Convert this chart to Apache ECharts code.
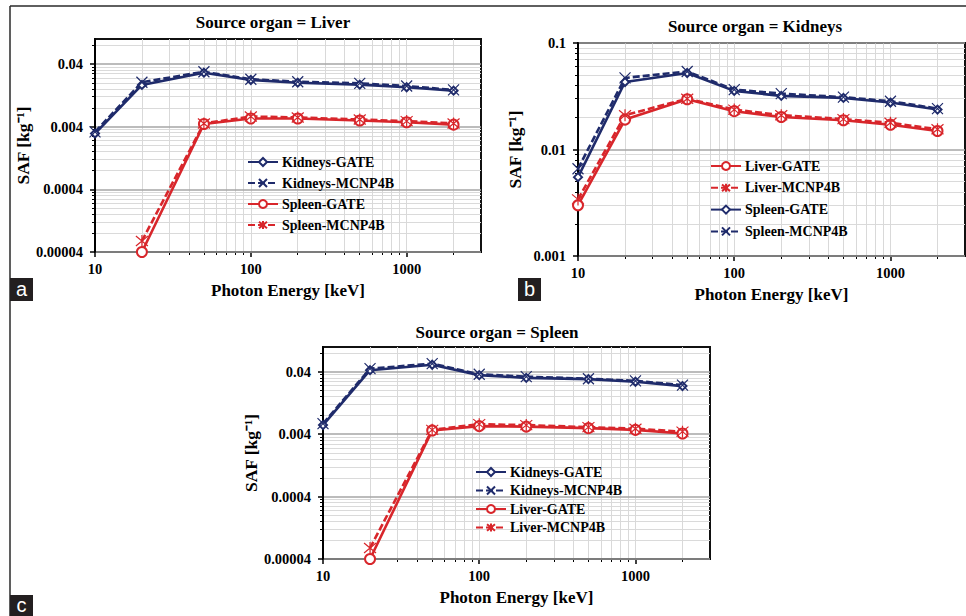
<!DOCTYPE html>
<html><head><meta charset="utf-8">
<script src="https://cdn.jsdelivr.net/npm/echarts@6/dist/echarts.min.js"></script>
<style>html,body{margin:0;padding:0;background:#fff}#c{width:966px;height:616px}</style>
</head><body><div id="c"></div>
<script>
// ---------- data ----------
const energies = [10, 20, 50, 100, 200, 500, 1000, 2000];

// (a) Source organ = Liver
const aKidneysGATE  = [0.0031, 0.0185, 0.0290, 0.0222, 0.0201, 0.0187, 0.0170, 0.0150];
const aKidneysMCNP  = [0.0033, 0.0204, 0.0300, 0.0228, 0.0208, 0.0196, 0.0178, 0.0154];
const aSpleenGATE   = [null, 0.00004, 0.0044, 0.0054, 0.0054, 0.0050, 0.0047, 0.0043];
const aSpleenMCNP   = [null, 0.00006, 0.0045, 0.0058, 0.0056, 0.0052, 0.0049, 0.0045];

// (b) Source organ = Kidneys
const bLiverGATE    = [0.0030, 0.0191, 0.0296, 0.0229, 0.0202, 0.0188, 0.0171, 0.0149];
const bLiverMCNP    = [0.0034, 0.0210, 0.0300, 0.0237, 0.0210, 0.0193, 0.0178, 0.0155];
const bSpleenGATE   = [0.0055, 0.0430, 0.0523, 0.0355, 0.0319, 0.0305, 0.0276, 0.0237];
const bSpleenMCNP   = [0.0066, 0.0470, 0.0540, 0.0365, 0.0335, 0.0310, 0.0284, 0.0242];

// (c) Source organ = Spleen
const cKidneysGATE  = [0.0056, 0.0425, 0.0520, 0.0354, 0.0320, 0.0306, 0.0277, 0.0236];
const cKidneysMCNP  = [0.0059, 0.0450, 0.0540, 0.0366, 0.0335, 0.0310, 0.0287, 0.0245];
const cLiverGATE    = [null, 0.00004, 0.0046, 0.0054, 0.0053, 0.0050, 0.0047, 0.0041];
const cLiverMCNP    = [null, 0.00006, 0.0047, 0.0058, 0.0056, 0.0052, 0.0049, 0.0044];

// ticks
const xTicks = [10, 100, 1000];
const xTickLabels = ['10', '100', '1000'];
const yTicksAC = [0.00004, 0.0004, 0.004, 0.04];
const yTickLabelsAC = ['0.00004', '0.0004', '0.004', '0.04'];
const yTicksB = [0.001, 0.01, 0.1];
const yTickLabelsB = ['0.001', '0.01', '0.1'];

const titles = ['Source organ = Liver', 'Source organ = Kidneys', 'Source organ = Spleen'];
const xName = 'Photon Energy [keV]';
const yName = 'SAF [kg\u207B\u00B9]';

// ---------- styling ----------
const BLUE = '#1f2b6b', RED = '#d8262b';
const FONT = "'Liberation Serif', 'Times New Roman', serif";
const KIND = {
  blueGate: {color: BLUE, dash: 'solid', symbol: 'emptyDiamond', size: 8},
  blueMcnp: {color: BLUE, dash: [7, 3], symbol: 'path://M0,0L10,10M10,0L0,10', size: 11},
  redGate:  {color: RED,  dash: 'solid', symbol: 'emptyCircle', size: 10},
  redMcnp:  {color: RED,  dash: [7, 3], symbol: 'path://M0,0L10,10M10,0L0,10M5,-1L5,11', size: 12}
};

const panels = [
  {key: 'a', grid: {left: 95, top: 39, width: 386, height: 213}, yMin: 0.00004, yMax: 0.1,
   yTicks: yTicksAC, yLabels: yTickLabelsAC, title: {left: 273, top: 14}, yGap: 53,
   legend: {left: 247, top: 155, itemGap: 7},
   series: [['Kidneys-GATE', aKidneysGATE, 'blueGate'], ['Kidneys-MCNP4B', aKidneysMCNP, 'blueMcnp'],
            ['Spleen-GATE', aSpleenGATE, 'redGate'], ['Spleen-MCNP4B', aSpleenMCNP, 'redMcnp']]},
  {key: 'b', grid: {left: 578, top: 43, width: 387, height: 213}, yMin: 0.001, yMax: 0.1,
   yTicks: yTicksB, yLabels: yTickLabelsB, title: {left: 755, top: 18}, yGap: 54,
   legend: {left: 710, top: 159, itemGap: 7.8},
   series: [['Liver-GATE', bLiverGATE, 'redGate'], ['Liver-MCNP4B', bLiverMCNP, 'redMcnp'],
            ['Spleen-GATE', bSpleenGATE, 'blueGate'], ['Spleen-MCNP4B', bSpleenMCNP, 'blueMcnp']]},
  {key: 'c', grid: {left: 323, top: 347, width: 387, height: 212}, yMin: 0.00004, yMax: 0.1,
   yTicks: yTicksAC, yLabels: yTickLabelsAC, title: {left: 497, top: 324}, yGap: 53,
   legend: {left: 475, top: 465, itemGap: 4.5},
   series: [['Kidneys-GATE', cKidneysGATE, 'blueGate'], ['Kidneys-MCNP4B', cKidneysMCNP, 'blueMcnp'],
            ['Liver-GATE', cLiverGATE, 'redGate'], ['Liver-MCNP4B', cLiverMCNP, 'redMcnp']]}
];

function minorValues(ticks, max) {
  const out = [];
  ticks.forEach(t => { for (let k = 2; k <= 9; k++) { const v = +(t * k).toPrecision(6); if (v < max) out.push(v); } });
  return out;
}
function labelFor(vals, labels) {
  return v => {
    let best = 0, bd = Infinity;
    vals.forEach((t, i) => { const d = Math.abs(Math.log10(v) - Math.log10(t)); if (d < bd) { bd = d; best = i; } });
    return bd < 0.01 ? labels[best] : '';
  };
}

const option = {backgroundColor: '#fff', animation: false, title: [], grid: [], xAxis: [], yAxis: [], legend: [], series: [],
  graphic: [
    {type: 'line', shape: {x1: 10, y1: 6, x2: 966, y2: 6}, style: {stroke: '#2a2a2a', lineWidth: 1.5}},
    {type: 'line', shape: {x1: 10, y1: 6, x2: 10, y2: 616}, style: {stroke: '#2a2a2a', lineWidth: 1.5}},
    {type: 'rect', shape: {x: 10, y: 278, width: 23, height: 23}, style: {fill: '#231f20'}},
    {type: 'text', x: 21.5, y: 289, style: {text: 'a', fill: '#fff', font: '20px "Liberation Sans", Arial, sans-serif', align: 'center', verticalAlign: 'middle'}},
    {type: 'rect', shape: {x: 518, y: 278, width: 23, height: 23}, style: {fill: '#231f20'}},
    {type: 'text', x: 529.5, y: 289, style: {text: 'b', fill: '#fff', font: '20px "Liberation Sans", Arial, sans-serif', align: 'center', verticalAlign: 'middle'}},
    {type: 'rect', shape: {x: 10, y: 595, width: 23, height: 21}, style: {fill: '#231f20'}},
    {type: 'text', x: 21.5, y: 605, style: {text: 'c', fill: '#fff', font: '20px "Liberation Sans", Arial, sans-serif', align: 'center', verticalAlign: 'middle'}}
  ]
};

panels.forEach((p, i) => {
  option.title.push({text: titles[i], left: p.title.left, top: p.title.top, textAlign: 'center', padding: 0,
    textStyle: {fontFamily: FONT, fontWeight: 'bold', fontSize: 17, color: '#000'}});
  option.grid.push(Object.assign({show: true, borderColor: '#111', borderWidth: 2, backgroundColor: 'transparent', outerBoundsMode: 'none', containLabel: false}, p.grid));
  option.xAxis.push({type: 'log', gridIndex: i, position: 'bottom', min: 10, max: 3000, logBase: 10,
    axisLine: {show: true, onZero: false, lineStyle: {color: '#000', width: 2}},
    axisTick: {show: true, inside: false, length: 5, customValues: xTicks, lineStyle: {color: '#000', width: 1.5}},
    minorTick: {show: true, splitNumber: 9, length: 3, lineStyle: {color: '#000', width: 1}},
    axisLabel: {show: true, customValues: xTicks, formatter: labelFor(xTicks, xTickLabels), margin: 9,
      fontFamily: FONT, fontWeight: 'bold', fontSize: 14.5, color: '#000'},
    splitLine: {show: true, lineStyle: {color: '#d9d9d9', width: 1}},
    minorSplitLine: {show: true, lineStyle: {color: '#d9d9d9', width: 1}},
    name: xName, nameLocation: 'middle', nameGap: 30,
    nameTextStyle: {fontFamily: FONT, fontWeight: 'bold', fontSize: 17, color: '#000'}});
  // minor y axis (grid lines only)
  option.yAxis.push({type: 'log', gridIndex: i, position: 'left', offset: 0, min: p.yMin, max: p.yMax, logBase: 10, z: 0,
    axisLine: {show: false, onZero: false},
    axisTick: {show: true, inside: false, length: 3, customValues: minorValues(p.yTicks, p.yMax), lineStyle: {color: '#000', width: 1}},
    axisLabel: {show: false},
    splitLine: {show: true, lineStyle: {color: '#dadada', width: 1}},
    minorTick: {show: false}, minorSplitLine: {show: false}});
  // major y axis
  option.yAxis.push({type: 'log', gridIndex: i, position: 'left', offset: 0, min: p.yMin, max: p.yMax, logBase: 10, z: 1,
    axisLine: {show: true, onZero: false, lineStyle: {color: '#000', width: 2}},
    axisTick: {show: true, inside: false, length: 5, customValues: p.yTicks, lineStyle: {color: '#000', width: 1.5}},
    axisLabel: {show: true, customValues: p.yTicks, formatter: labelFor(p.yTicks, p.yLabels), margin: 12,
      fontFamily: FONT, fontWeight: 'bold', fontSize: 14.5, color: '#000'},
    splitLine: {show: true, lineStyle: {color: '#a6a6a6', width: 1.5}},
    minorTick: {show: false}, minorSplitLine: {show: false},
    name: yName, nameLocation: 'middle', nameRotate: 90, nameGap: p.yGap,
    nameTextStyle: {fontFamily: FONT, fontWeight: 'bold', fontSize: 17.5, color: '#000'}});

  const names = [];
  p.series.forEach(([nm, vals, kind]) => {
    const k = KIND[kind];
    const sname = nm + '#' + p.key;
    names.push(sname);
    option.series.push({type: 'line', name: sname, xAxisIndex: i, yAxisIndex: 2 * i + 1,
      data: energies.map((e, j) => vals[j] == null ? null : [e, vals[j]]).filter(d => d),
      clip: false, showAllSymbol: true, symbol: k.symbol, symbolSize: k.size,
      lineStyle: {color: k.color, width: 2.6, type: k.dash},
      itemStyle: {color: k.color, borderColor: k.color, borderWidth: 1.2},
      emphasis: {disabled: true}, animation: false});
  });
  option.legend.push({orient: 'vertical', left: p.legend.left, top: p.legend.top, padding: 0,
    itemGap: p.legend.itemGap, itemWidth: 30, itemHeight: 10, data: names,
    formatter: n => n.split('#')[0], selectedMode: false,
    textStyle: {fontFamily: FONT, fontWeight: 'bold', fontSize: 14, color: '#000', padding: [0, 0, 0, -1]}});
});

const chart = echarts.init(document.getElementById('c'), null, {renderer: 'svg', width: 966, height: 616});
chart.setOption(option);
</script>
</body></html>
